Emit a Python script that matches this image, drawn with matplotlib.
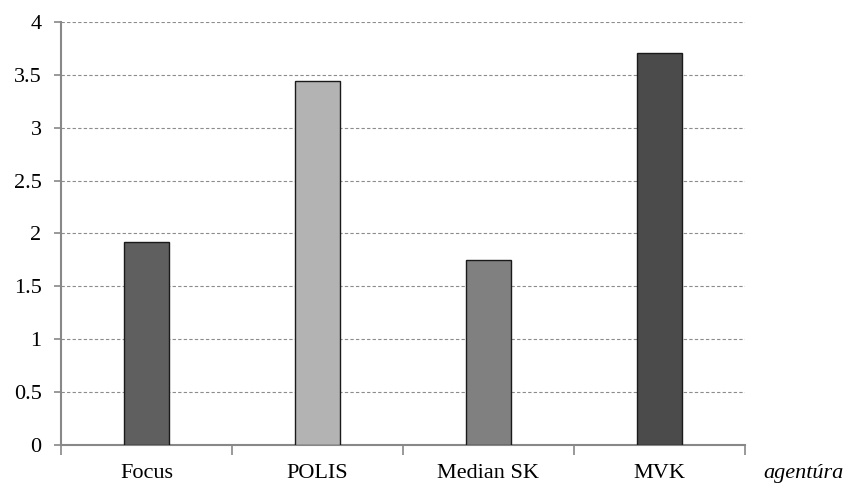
import matplotlib

matplotlib.use("Agg")
import matplotlib.pyplot as plt
import numpy as np

# data
agencies = ["Focus", "POLIS", "Median SK", "MVK"]
values = [1.92, 3.44, 1.75, 3.71]
bar_colors = ["#5f5f5f", "#b3b3b3", "#808080", "#4b4b4b"]
y_ticks = [0, 0.5, 1, 1.5, 2, 2.5, 3, 3.5, 4]
x_label = "agentúra"

plt.rcParams["font.family"] = ["Liberation Serif", "DejaVu Serif"]

fig = plt.figure(figsize=(8.54, 4.83), dpi=100)
ax = fig.add_axes([0.0714, 0.0787, 0.8009, 0.8758])

x = np.arange(len(agencies))
ax.bar(x, values, width=0.26, color=bar_colors, edgecolor="#1a1a1a",
       linewidth=1.0, zorder=3)

ax.set_xlim(-0.5, len(agencies) - 0.5)
ax.set_ylim(0, 4)
ax.set_yticks(y_ticks)
ax.set_yticklabels([f"{t:g}" for t in y_ticks], fontsize=16)
ax.yaxis.grid(True, linestyle=(0, (3, 2)), color="#8c8c8c", linewidth=0.8, zorder=0)

# category labels between boundary ticks
ax.set_xticks(np.arange(-0.5, len(agencies), 1.0))
ax.set_xticklabels([])
ax.set_xticks(x, minor=True)
ax.set_xticklabels(agencies, minor=True, fontsize=16)
ax.tick_params(axis="x", which="minor", length=0, pad=14)
ax.tick_params(axis="x", which="major", length=7, color="#888888", width=1.2)
ax.tick_params(axis="y", length=5, color="#888888", width=1.2, pad=9)

for side in ["top", "right"]:
    ax.spines[side].set_visible(False)
for side in ["left", "bottom"]:
    ax.spines[side].set_color("#888888")
    ax.spines[side].set_linewidth(1.5)

fig.text(763 / 854, 5 / 483, x_label, fontsize=16, style="italic",
         ha="left", va="baseline")

fig.savefig("out.png", dpi=100)
